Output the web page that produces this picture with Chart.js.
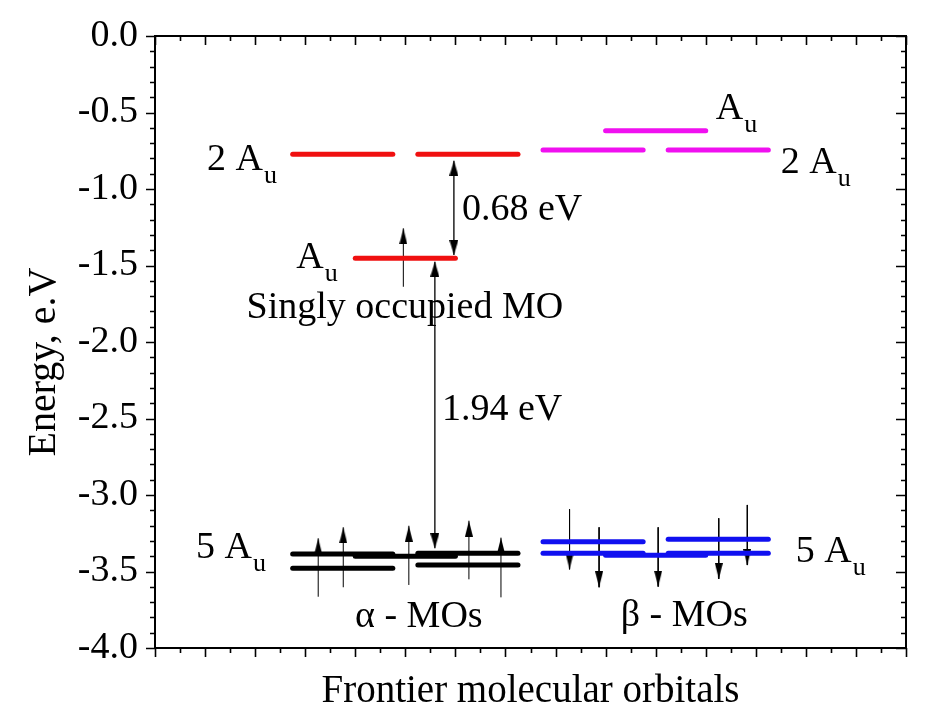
<!DOCTYPE html>
<html><head><meta charset="utf-8">
<script src="https://cdn.jsdelivr.net/npm/chart.js@4.4.1/dist/chart.umd.min.js"></script>
<style>html,body{margin:0;padding:0;background:#fff}#wrap{width:927px;height:723px;position:relative}</style>
</head><body><div id="wrap"><canvas id="c"></canvas></div>
<script>
// ---------------- data (energies in eV, x in orbital-axis units) ----------------
const yTickValues = [0, -0.5, -1, -1.5, -2, -2.5, -3, -3.5, -4];
const alphaVirtualE = [-0.773, -0.773];
const alphaVirtualX = [[2.75, 4.75], [5.25, 7.25]];
const somoE = [-1.453];
const somoX = [[4, 6]];
const betaVirtualE = [-0.745, -0.745, -0.619];
const betaVirtualX = [[7.75, 9.75], [10.25, 12.25], [9, 11]];
const alphaOccE = [-3.386, -3.479, -3.400, -3.381, -3.458];
const alphaOccX = [[2.75, 4.75], [2.75, 4.75], [4, 6], [5.25, 7.25], [5.25, 7.25]];
const betaOccE = [-3.305, -3.381, -3.394, -3.290, -3.381];
const betaOccX = [[7.75, 9.75], [7.75, 9.75], [9, 11], [10.25, 12.25], [10.25, 12.25]];
// arrows: [x, tail energy, tip energy]
const spinUpArrows = [[3.26, -3.665, -3.283], [3.76, -3.603, -3.211], [5.07, -3.588, -3.201], [6.27, -3.551, -3.168], [6.91, -3.669, -3.279], [4.96, -1.639, -1.257]];
const spinDownArrows = [[8.28, -3.093, -3.486], [8.87, -3.211, -3.603], [10.05, -3.211, -3.599], [11.26, -3.152, -3.549], [11.83, -3.065, -3.458]];
// gap arrows: [x, upper tip, lower tip]
const gapArrows = [[5.97, -0.815, -1.431], [5.59, -1.475, -3.348]];

// text annotations (anchored in data units)
const annotations = [
  {text: '2 A', sub: 'u', x: 1.04, y: -0.876},
  {text: 'A', sub: 'u', x: 11.20, y: -0.542},
  {text: '2 A', sub: 'u', x: 12.50, y: -0.895},
  {text: 'A', sub: 'u', x: 2.82, y: -1.516},
  {text: '5 A', sub: 'u', x: 0.82, y: -3.412},
  {text: '5 A', sub: 'u', x: 12.80, y: -3.438},
  {text: '0.68 eV', x: 6.13, y: -1.203},
  {text: '1.94 eV', x: 5.73, y: -2.51},
  {text: 'Singly occupied MO', x: 4.99, y: -1.843, align: 'center'},
  {text: 'α - MOs', x: 5.27, y: -3.863, align: 'center'},
  {text: 'β - MOs', x: 10.57, y: -3.856, align: 'center'}
];

// ---------------- build ----------------
const FONT = "'Liberation Serif', 'Times New Roman', serif";
function levelSets(E, X, color) {
  return E.map((e, i) => ({
    data: [{x: X[i][0], y: e}, {x: X[i][1], y: e}],
    borderColor: color, borderWidth: 5, borderCapStyle: 'round',
    pointRadius: 0, fill: false
  }));
}
function shaftData(arr) {
  const d = [];
  arr.forEach(a => { d.push({x: a[0], y: a[1]}, {x: a[0], y: a[2]}, {x: a[0], y: null}); });
  return d;
}
function head(w, len, dir) {
  const c = document.createElement('canvas');
  c.width = w; c.height = len * 2;
  const g = c.getContext('2d');
  g.fillStyle = '#000';
  g.beginPath();
  if (dir === 'up') { g.moveTo(w / 2, len); g.lineTo(w, len * 2); g.lineTo(0, len * 2); }
  else { g.moveTo(w / 2, len); g.lineTo(w, 0); g.lineTo(0, 0); }
  g.closePath(); g.fill();
  return c;
}
const upHead = head(8, 16, 'up'), downHead = head(8, 16, 'down');
const upHeadBig = head(9, 15, 'up'), downHeadBig = head(9, 15, 'down');

const datasets = [
  ...levelSets(alphaVirtualE, alphaVirtualX, '#f01010'),
  ...levelSets(somoE, somoX, '#f01010'),
  ...levelSets(betaVirtualE, betaVirtualX, '#f010f0'),
  ...levelSets(alphaOccE, alphaOccX, '#000000'),
  ...levelSets(betaOccE, betaOccX, '#1010f0'),
  {data: shaftData(spinUpArrows.concat(spinDownArrows)), borderColor: '#000', borderWidth: 1, pointRadius: 0, spanGaps: false},
  {data: shaftData(gapArrows), borderColor: '#000', borderWidth: 1.3, pointRadius: 0, spanGaps: false},
  {data: spinUpArrows.map(a => ({x: a[0], y: a[2]})), showLine: false, pointStyle: upHead, pointRadius: 3},
  {data: spinDownArrows.map(a => ({x: a[0], y: a[2]})), showLine: false, pointStyle: downHead, pointRadius: 3},
  {data: gapArrows.map(a => ({x: a[0], y: a[1]})), showLine: false, pointStyle: upHeadBig, pointRadius: 3},
  {data: gapArrows.map(a => ({x: a[0], y: a[2]})), showLine: false, pointStyle: downHeadBig, pointRadius: 3}
];

const deco = {
  id: 'deco',
  afterDraw(chart) {
    const {ctx, chartArea: a, scales: {x, y}} = chart;
    ctx.save();
    ctx.strokeStyle = '#000';
    ctx.lineWidth = 1.6;
    ctx.beginPath();
    for (let i = 0; i <= 40; i++) {
      const py = Math.round(y.getPixelForValue(-i / 10)) + 0.5;
      const major = i % 5 === 0;
      ctx.moveTo(a.left, py); ctx.lineTo(a.left - (major ? 9 : 5), py);
      ctx.moveTo(a.right, py); ctx.lineTo(a.right - (major ? 10 : 5), py);
    }
    for (let i = 0; i <= 30; i++) {
      const px = Math.round(x.getPixelForValue(i / 2)) + 0.5;
      const major = i % 2 === 0;
      ctx.moveTo(px, a.bottom); ctx.lineTo(px, a.bottom + (major ? 9 : 5));
      ctx.moveTo(px, a.top); ctx.lineTo(px, a.top + (major ? 9 : 5));
    }
    ctx.stroke();
    ctx.lineWidth = 2;
    ctx.strokeRect(a.left, a.top, a.right - a.left, a.bottom - a.top);

    ctx.fillStyle = '#000';
    ctx.textBaseline = 'alphabetic';
    annotations.forEach(t => {
      const px = x.getPixelForValue(t.x), py = y.getPixelForValue(t.y);
      ctx.font = '38px ' + FONT;
      ctx.textAlign = t.align || 'left';
      ctx.fillText(t.text, px, py);
      if (t.sub) {
        const w = ctx.measureText(t.text).width;
        ctx.font = '26px ' + FONT;
        ctx.textAlign = 'left';
        ctx.fillText(t.sub, px + w + 1, py + 13);
      }
    });
    // y axis title
    ctx.save();
    ctx.translate(44, 362);
    ctx.rotate(-Math.PI / 2);
    ctx.font = '40px ' + FONT;
    ctx.textAlign = 'center';
    ctx.textBaseline = 'middle';
    ctx.fillText('Energy, e.V', 0, 0);
    ctx.restore();
    ctx.restore();
  }
};

new Chart(document.getElementById('c'), {
  type: 'line',
  data: {datasets},
  options: {
    responsive: true, maintainAspectRatio: false, animation: false,
    layout: {padding: {top: 36, right: 21, left: 0, bottom: 0}},
    plugins: {legend: {display: false}, tooltip: {enabled: false}},
    scales: {
      x: {
        type: 'linear', min: 0, max: 15,
        grid: {display: false, drawTicks: false},
        border: {display: false},
        ticks: {display: false},
        title: {display: true, text: 'Frontier molecular orbitals', color: '#000',
                font: {family: FONT, size: 39}, padding: {top: 0, bottom: 8}},
        afterFit: s => { s.height = 75; s.paddingLeft = 0; s.paddingRight = 0; }
      },
      y: {
        type: 'linear', min: -4, max: 0,
        grid: {display: false, drawTicks: false},
        border: {display: false},
        afterBuildTicks: s => { s.ticks = yTickValues.map(v => ({value: v})); },
        ticks: {color: '#000', padding: 17, font: {family: FONT, size: 38},
                callback: v => Number(v).toFixed(1)},
        afterFit: s => { s.width = 155; s.paddingTop = 0; s.paddingBottom = 0; }
      }
    }
  },
  plugins: [deco]
});
</script>
</body></html>
